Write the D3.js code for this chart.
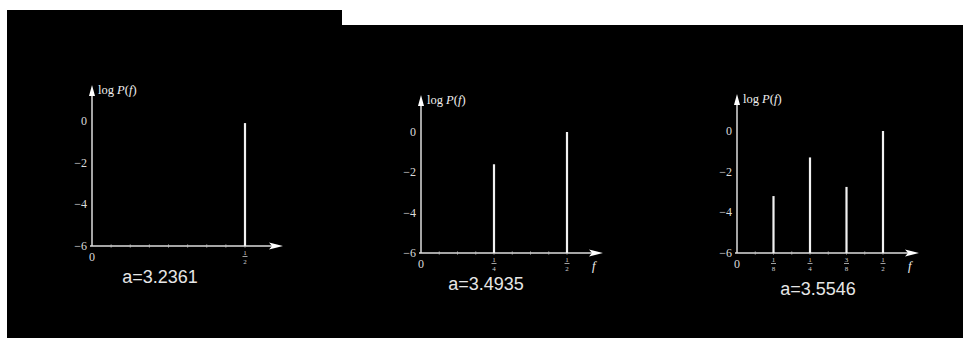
<!DOCTYPE html>
<html lang="en">
<head>
<meta charset="UTF-8">
<title>Power spectra</title>
<script src="https://d3js.org/d3.v7.min.js"></script>
<style>
    body {margin: 0; background: #fff;}
    svg {display: block;}
    .tick-label {font-family: "Liberation Serif", "DejaVu Serif", serif; font-size: 12px; fill: #dcdcdc;}
    .frac {font-family: "Liberation Serif", "DejaVu Serif", serif; font-size: 7px; fill: #d0d0d0;}
    .ylab {font-family: "Liberation Serif", "DejaVu Serif", serif; font-size: 12.5px; fill: #f0f0f0;}
    .param {font-family: "Liberation Sans", Arial, sans-serif; font-size: 18px; fill: #e6e6e6;}
</style>
</head>
<body>
<script>
    // one entry per panel
    var params = ["a=3.2361", "a=3.4935", "a=3.5546"];
    var freqs = [[0.5], [0.25, 0.5], [0.125, 0.25, 0.375, 0.5]];
    var logP = [[-0.1], [-1.6, 0], [-3.2, -1.3, -2.75, 0]];
    var yTicks = [0, -2, -4, -6];
    var fracLabels = {0.125: ["1", "8"], 0.25: ["1", "4"], 0.375: ["3", "8"], 0.5: ["1", "2"]};
    var showF = [false, true, true];

    // where each panel sits on the page
    var layout = [
        {x0: 92, xh: 245, yb: 246, yt: 121, top: 85, tip: 283, lab: 160, labY: 283},
        {x0: 421, xh: 567, yb: 253, yt: 132, top: 95, tip: 603, lab: 486, labY: 290},
        {x0: 737, xh: 883, yb: 253, yt: 131, top: 94, tip: 919, lab: 818, labY: 295}
    ];

    var svg = d3.select("body").append("svg")
        .attr("width", 963)
        .attr("height", 338);

    // black backdrop with the white notch at the top
    svg.append("rect").attr("x", 7).attr("y", 10).attr("width", 956).attr("height", 328).attr("fill", "#000");
    svg.append("rect").attr("x", 342).attr("y", 0).attr("width", 621).attr("height", 25).attr("fill", "#fff");

    layout.forEach(function(L, p) {
        var x = d3.scaleLinear().domain([0, 0.5]).range([L.x0, L.xh]);
        var y = d3.scaleLinear().domain([-6, 0]).range([L.yb, L.yt]);
        var g = svg.append("g");

        // y axis + arrow
        g.append("line").attr("x1", x(0)).attr("x2", x(0)).attr("y1", y(-6)).attr("y2", L.top + 8)
            .attr("stroke", "#ddd").attr("stroke-width", 1.5);
        g.append("path")
            .attr("d", "M" + x(0) + "," + L.top + " L" + (x(0) - 3) + "," + (L.top + 11) + " L" + (x(0) + 3) + "," + (L.top + 11) + "Z")
            .attr("fill", "#fff");

        // x axis + arrow
        g.append("line").attr("x1", x(0) - 2).attr("x2", L.tip - 8).attr("y1", y(-6)).attr("y2", y(-6))
            .attr("stroke", "#ddd").attr("stroke-width", 1.5);
        g.append("path")
            .attr("d", "M" + L.tip + "," + y(-6) + " L" + (L.tip - 14) + "," + (y(-6) - 3.5) + " L" + (L.tip - 11) + "," + y(-6) + " L" + (L.tip - 14) + "," + (y(-6) + 3.5) + "Z")
            .attr("fill", "#fff");

        // minor ticks every 1/16
        g.selectAll(".minor").data(d3.range(1, 9).map(function(i) { return i / 16; }))
            .enter().append("line")
            .attr("x1", function(d) { return x(d); }).attr("x2", function(d) { return x(d); })
            .attr("y1", y(-6) - 1.5).attr("y2", y(-6) + 1.5)
            .attr("stroke", "#bbb").attr("stroke-width", 1);

        // y tick labels
        g.selectAll(".yl").data(yTicks).enter().append("text")
            .attr("class", "tick-label")
            .attr("x", x(0) - 5).attr("y", function(d) { return y(d) + 4; })
            .attr("text-anchor", "end")
            .text(function(d) { return d === 0 ? "0" : "\u2212" + Math.abs(d); });

        g.append("text").attr("class", "tick-label")
            .attr("x", x(0)).attr("y", y(-6) + 15).attr("text-anchor", "middle").text("0");

        // axis title
        var t = g.append("text").attr("class", "ylab").attr("x", x(0) + 6).attr("y", L.top + 9);
        t.append("tspan").text("log ");
        t.append("tspan").attr("font-style", "italic").text("P");
        t.append("tspan").text("(");
        t.append("tspan").attr("font-style", "italic").text("f");
        t.append("tspan").text(")");

        if (showF[p]) {
            g.append("text").attr("class", "ylab").attr("font-style", "italic").attr("font-size", "15px")
                .attr("x", L.tip - 11).attr("y", y(-6) + 17).text("f");
        }

        // spectral lines
        g.selectAll(".spike").data(freqs[p]).enter().append("line")
            .attr("x1", function(d) { return x(d); }).attr("x2", function(d) { return x(d); })
            .attr("y1", y(-6)).attr("y2", function(d, i) { return y(logP[p][i]); })
            .attr("stroke", "#f2f2f2").attr("stroke-width", 2.2);

        // fraction labels under the spikes
        freqs[p].forEach(function(f) {
            var fr = fracLabels[f];
            var fg = g.append("g").attr("transform", "translate(" + x(f) + "," + (y(-6) + 3) + ")");
            fg.append("text").attr("class", "frac").attr("text-anchor", "middle")
                .attr("y", 6).text(fr[0]);
            fg.append("line").attr("x1", -2.5).attr("x2", 2.5).attr("y1", 7.5).attr("y2", 7.5)
                .attr("stroke", "#ccc").attr("stroke-width", 0.8);
            fg.append("text").attr("class", "frac").attr("text-anchor", "middle")
                .attr("y", 15).text(fr[1]);
        });

        g.append("text").attr("class", "param")
            .attr("x", L.lab).attr("y", L.labY).attr("text-anchor", "middle").text(params[p]);
    });
</script>
</body>
</html>
